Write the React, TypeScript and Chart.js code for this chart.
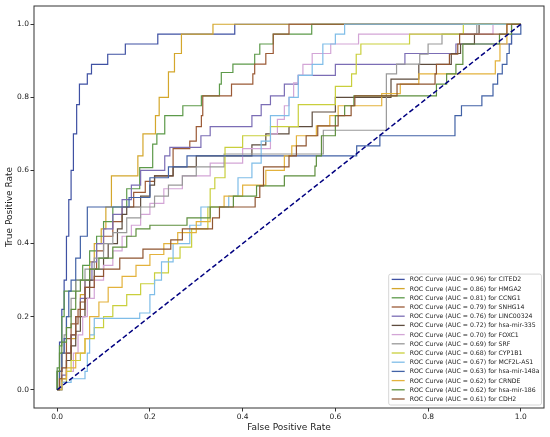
import { useEffect, useRef } from 'react';
import { Chart, registerables } from 'chart.js';

Chart.register(...registerables);

const genes = ['CITED2', 'HMGA2', 'CCNG1', 'SNHG14', 'LINC00324', 'hsa-mir-335', 'FOXC1', 'SRF', 'CYP1B1', 'MCF2L-AS1', 'hsa-mir-148a', 'CRNDE', 'hsa-mir-186', 'CDH2'];
const aucs = [0.96, 0.86, 0.81, 0.79, 0.76, 0.72, 0.70, 0.69, 0.68, 0.67, 0.63, 0.62, 0.62, 0.61];
const axisTicks = [0, 0.2, 0.4, 0.6, 0.8, 1.0];

const fprCITED2 = [0, 0, 0.005, 0.01, 0.015, 0.02, 0.025, 0.03, 0.035, 0.042, 0.048, 0.065, 0.074, 0.109, 0.147, 0.217, 0.383, 1];
const tprCITED2 = [0, 0.05, 0.13, 0.22, 0.3, 0.42, 0.52, 0.6, 0.7, 0.78, 0.836, 0.864, 0.89, 0.918, 0.946, 0.973, 1, 1];

const fprHMGA2 = [0, 0.005, 0.02, 0.03, 0.04, 0.05, 0.06, 0.07, 0.08, 0.095, 0.105, 0.117, 0.174, 0.185, 0.212, 0.22, 0.24, 0.253, 0.268, 0.336, 1];
const tprHMGA2 = [0, 0.03, 0.08, 0.14, 0.2, 0.26, 0.3, 0.35, 0.4, 0.44, 0.5, 0.585, 0.64, 0.7, 0.75, 0.8, 0.87, 0.92, 0.973, 1, 1];

const fprCCNG1 = [0, 0, 0.005, 0.01, 0.015, 0.04, 0.055, 0.07, 0.085, 0.1, 0.12, 0.15, 0.178, 0.206, 0.215, 0.232, 0.271, 0.311, 0.35, 0.354, 0.379, 0.426, 0.437, 0.466, 0.549, 1];
const tprCCNG1 = [0, 0.06, 0.12, 0.2, 0.27, 0.3, 0.34, 0.38, 0.42, 0.46, 0.5, 0.55, 0.608, 0.672, 0.7, 0.75, 0.777, 0.804, 0.836, 0.868, 0.891, 0.918, 0.946, 0.973, 1, 1];

const fprSNHG14 = [0, 0.005, 0.01, 0.02, 0.03, 0.045, 0.06, 0.07, 0.085, 0.1, 0.12, 0.14, 0.165, 0.19, 0.21, 0.25, 0.25, 0.286, 0.3, 0.311, 0.314, 0.376, 0.422, 0.426, 0.45, 0.466, 0.466, 0.5, 1];
const tprSNHG14 = [0, 0.05, 0.1, 0.14, 0.18, 0.22, 0.28, 0.33, 0.38, 0.42, 0.46, 0.5, 0.54, 0.57, 0.585, 0.61, 0.66, 0.68, 0.72, 0.75, 0.804, 0.836, 0.864, 0.891, 0.92, 0.946, 0.973, 1, 1];

const fprLINC00324 = [0, 0.01, 0.02, 0.03, 0.04, 0.05, 0.06, 0.075, 0.085, 0.1, 0.12, 0.14, 0.16, 0.18, 0.232, 0.243, 0.31, 0.33, 0.42, 0.44, 0.46, 0.49, 0.52, 0.6, 0.75, 0.86, 0.98, 1];
const tprLINC00324 = [0, 0.04, 0.1, 0.15, 0.2, 0.25, 0.3, 0.35, 0.4, 0.44, 0.48, 0.52, 0.56, 0.6, 0.64, 0.663, 0.695, 0.72, 0.75, 0.78, 0.804, 0.836, 0.86, 0.89, 0.92, 0.946, 1, 1];

const fprMir335 = [0, 0.01, 0.02, 0.03, 0.04, 0.05, 0.06, 0.07, 0.08, 0.1, 0.11, 0.13, 0.14, 0.15, 0.18, 0.2, 0.21, 0.25, 0.3, 0.42, 0.45, 0.5, 0.55, 0.6, 0.72, 0.78, 0.85, 0.87, 0.9, 0.91, 1];
const tprMir335 = [0, 0.03, 0.08, 0.12, 0.16, 0.2, 0.25, 0.3, 0.33, 0.36, 0.4, 0.44, 0.48, 0.5, 0.53, 0.56, 0.585, 0.61, 0.64, 0.67, 0.7, 0.72, 0.76, 0.8, 0.85, 0.89, 0.92, 0.946, 0.973, 1, 1];

const fprFOXC1 = [0, 0.01, 0.02, 0.035, 0.045, 0.055, 0.065, 0.08, 0.1, 0.12, 0.14, 0.16, 0.18, 0.2, 0.23, 0.27, 0.33, 0.4, 0.46, 0.475, 0.49, 0.5, 0.51, 0.52, 0.53, 0.55, 0.59, 0.65, 0.94, 1];
const tprFOXC1 = [0, 0.02, 0.05, 0.1, 0.15, 0.2, 0.25, 0.3, 0.34, 0.38, 0.42, 0.45, 0.48, 0.51, 0.55, 0.585, 0.62, 0.66, 0.7, 0.74, 0.777, 0.8, 0.84, 0.86, 0.89, 0.92, 0.946, 0.973, 1, 1];

const fprSRF = [0, 0.005, 0.01, 0.015, 0.02, 0.03, 0.04, 0.06, 0.08, 0.1, 0.12, 0.15, 0.18, 0.21, 0.24, 0.27, 0.3, 0.36, 0.574, 0.71, 0.732, 0.782, 0.8, 0.83, 0.905, 1];
const tprSRF = [0, 0.05, 0.1, 0.15, 0.2, 0.25, 0.3, 0.33, 0.36, 0.4, 0.43, 0.47, 0.5, 0.53, 0.56, 0.585, 0.61, 0.645, 0.71, 0.864, 0.891, 0.918, 0.946, 0.973, 1, 1];

const fprCYP1B1 = [0, 0.01, 0.02, 0.03, 0.05, 0.06, 0.08, 0.1, 0.12, 0.15, 0.18, 0.21, 0.24, 0.265, 0.29, 0.325, 0.33, 0.34, 0.362, 0.4, 0.46, 0.52, 0.6, 0.635, 0.645, 0.655, 0.76, 0.876, 1];
const tprCYP1B1 = [0, 0.02, 0.05, 0.08, 0.1, 0.14, 0.17, 0.2, 0.23, 0.26, 0.29, 0.32, 0.36, 0.39, 0.44, 0.5, 0.55, 0.58, 0.663, 0.695, 0.72, 0.78, 0.83, 0.864, 0.918, 0.946, 0.973, 1, 1];

const fprMCF2LAS1 = [0, 0.01, 0.03, 0.06, 0.065, 0.07, 0.08, 0.178, 0.2, 0.21, 0.225, 0.25, 0.286, 0.31, 0.37, 0.39, 0.42, 0.44, 0.46, 0.5, 0.52, 0.55, 0.573, 0.6, 0.62, 1];
const tprMCF2LAS1 = [0, 0.02, 0.03, 0.05, 0.1, 0.15, 0.195, 0.21, 0.26, 0.3, 0.35, 0.4, 0.45, 0.5, 0.53, 0.58, 0.62, 0.68, 0.75, 0.8, 0.86, 0.89, 0.946, 0.973, 1, 1];

const fprMir148a = [0, 0.005, 0.01, 0.015, 0.02, 0.025, 0.03, 0.04, 0.05, 0.065, 0.155, 0.2, 0.24, 0.28, 0.646, 0.696, 0.858, 0.872, 0.916, 0.94, 0.95, 0.96, 0.97, 0.975, 0.98, 1];
const tprMir148a = [0, 0.05, 0.1, 0.14, 0.2, 0.27, 0.3, 0.36, 0.42, 0.5, 0.526, 0.58, 0.61, 0.64, 0.667, 0.695, 0.75, 0.777, 0.804, 0.836, 0.864, 0.89, 0.92, 0.946, 0.973, 1];

const fprCRNDE = [0, 0.01, 0.02, 0.04, 0.06, 0.07, 0.09, 0.11, 0.14, 0.17, 0.2, 0.23, 0.26, 0.3, 0.33, 0.36, 0.4, 0.45, 0.49, 0.506, 0.516, 0.559, 0.588, 0.606, 0.7, 0.74, 0.78, 0.945, 0.955, 0.97, 1];
const tprCRNDE = [0, 0.03, 0.06, 0.1, 0.14, 0.2, 0.24, 0.28, 0.31, 0.34, 0.37, 0.4, 0.43, 0.46, 0.5, 0.53, 0.56, 0.6, 0.64, 0.667, 0.695, 0.722, 0.75, 0.777, 0.81, 0.836, 0.864, 0.9, 0.946, 1, 1];

const fprMir186 = [0, 0, 0.005, 0.01, 0.02, 0.03, 0.04, 0.05, 0.07, 0.09, 0.12, 0.15, 0.17, 0.2, 0.28, 0.33, 0.38, 0.43, 0.49, 0.556, 0.559, 0.57, 0.6, 0.62, 0.64, 0.818, 0.84, 0.86, 0.875, 0.954, 0.98, 1];
const tprMir186 = [0, 0.05, 0.1, 0.13, 0.17, 0.22, 0.27, 0.3, 0.33, 0.36, 0.39, 0.42, 0.44, 0.45, 0.47, 0.5, 0.53, 0.558, 0.585, 0.612, 0.64, 0.695, 0.75, 0.777, 0.804, 0.836, 0.864, 0.89, 0.946, 0.973, 1, 1];

const fprCDH2 = [0, 0.005, 0.01, 0.02, 0.03, 0.04, 0.05, 0.06, 0.08, 0.1, 0.135, 0.185, 0.245, 0.27, 0.335, 0.35, 0.427, 0.437, 0.445, 0.5, 0.516, 0.537, 0.562, 0.606, 0.634, 0.642, 0.733, 0.815, 0.818, 0.846, 0.864, 0.868, 0.97, 1];
const tprCDH2 = [0, 0.03, 0.06, 0.1, 0.15, 0.2, 0.24, 0.28, 0.31, 0.33, 0.36, 0.385, 0.41, 0.44, 0.47, 0.5, 0.526, 0.558, 0.61, 0.64, 0.667, 0.695, 0.722, 0.75, 0.777, 0.804, 0.836, 0.864, 0.89, 0.918, 0.946, 0.973, 1, 1];

const diagonal = [0, 1];

const fprAll = [fprCITED2, fprHMGA2, fprCCNG1, fprSNHG14, fprLINC00324, fprMir335, fprFOXC1, fprSRF, fprCYP1B1, fprMCF2LAS1, fprMir148a, fprCRNDE, fprMir186, fprCDH2];
const tprAll = [tprCITED2, tprHMGA2, tprCCNG1, tprSNHG14, tprLINC00324, tprMir335, tprFOXC1, tprSRF, tprCYP1B1, tprMCF2LAS1, tprMir148a, tprCRNDE, tprMir186, tprCDH2];

const colors = ['#3f51a3', '#d4a72c', '#5d9a4a', '#9b5a36', '#7b6db5', '#5e4c3e', '#d3a5d6', '#999999', '#c9cf3c', '#7fbde8', '#4262a6', '#e3b23c', '#5e8f3e', '#8f5531'];

const FONT = "'DejaVu Sans', sans-serif";

const frameLegendPlugin = {
  id: 'frameLegend',
  afterDatasetsDraw(chart: any) {
    const { ctx, chartArea: a } = chart;
    ctx.save();
    ctx.strokeStyle = '#333';
    ctx.lineWidth = 1;
    ctx.strokeRect(a.left, a.top, a.right - a.left, a.bottom - a.top);

    const fs = 6.2;
    ctx.font = `${fs}px ${FONT}`;
    const labels = genes.map((g, i) => `ROC Curve (AUC = ${aucs[i].toFixed(2)}) for ${g}`);
    const maxW = Math.max(...labels.map((l) => ctx.measureText(l).width));
    const rowH = 9.2;
    const right = a.right - 2.5;
    const bottom = a.bottom - 3;
    const h = rowH * (labels.length - 1) + 11.3;
    const w = maxW + 23;
    const left = right - w;
    const top = bottom - h;
    ctx.beginPath();
    const r = 2;
    ctx.moveTo(left + r, top);
    ctx.lineTo(right - r, top);
    ctx.quadraticCurveTo(right, top, right, top + r);
    ctx.lineTo(right, bottom - r);
    ctx.quadraticCurveTo(right, bottom, right - r, bottom);
    ctx.lineTo(left + r, bottom);
    ctx.quadraticCurveTo(left, bottom, left, bottom - r);
    ctx.lineTo(left, top + r);
    ctx.quadraticCurveTo(left, top, left + r, top);
    ctx.closePath();
    ctx.fillStyle = 'rgba(255,255,255,0.8)';
    ctx.fill();
    ctx.strokeStyle = '#cccccc';
    ctx.lineWidth = 0.8;
    ctx.stroke();

    ctx.textBaseline = 'middle';
    ctx.textAlign = 'left';
    labels.forEach((l, i) => {
      const y = top + 5.3 + i * rowH;
      ctx.strokeStyle = colors[i];
      ctx.lineWidth = 1.3;
      ctx.beginPath();
      ctx.moveTo(left + 3, y);
      ctx.lineTo(left + 16, y);
      ctx.stroke();
      ctx.fillStyle = '#222';
      ctx.fillText(l, left + 21, y + 0.3);
    });
    ctx.restore();
  },
};

export default function App() {
  const ref = useRef<HTMLCanvasElement | null>(null);

  useEffect(() => {
    if (!ref.current) return;
    const datasets: any[] = genes.map((g, i) => ({
      label: `ROC Curve (AUC = ${aucs[i].toFixed(2)}) for ${g}`,
      data: fprAll[i].map((x, j) => ({ x, y: tprAll[i][j] })),
      borderColor: colors[i],
      backgroundColor: colors[i],
      borderWidth: 1.2,
      pointRadius: 0,
      stepped: 'before',
      fill: false,
      order: 30 - i,
    }));
    datasets.push({
      label: 'chance',
      data: diagonal.map((v) => ({ x: v, y: v })),
      borderColor: '#000080',
      borderWidth: 1.5,
      borderDash: [5, 2.6],
      pointRadius: 0,
      fill: false,
      order: 0,
    });

    const setTicks = (scale: any) => {
      scale.ticks = axisTicks.map((v) => ({ value: v }));
    };

    const chart = new Chart(ref.current, {
      type: 'line',
      data: { datasets },
      plugins: [frameLegendPlugin],
      options: {
        animation: false,
        responsive: false,
        maintainAspectRatio: false,
        layout: { padding: { top: 6, right: 6, left: 0, bottom: 0 } },
        plugins: { legend: { display: false }, tooltip: { enabled: false } },
        elements: { line: { tension: 0 } },
        scales: {
          x: {
            type: 'linear',
            min: -0.05,
            max: 1.05,
            afterBuildTicks: setTicks,
            afterFit: (s: any) => { s.height = 29; },
            grid: { display: true, drawOnChartArea: false, drawTicks: true, tickLength: 3.5, color: '#333' },
            border: { display: false },
            ticks: { font: { family: FONT, size: 7.5 }, color: '#222', padding: 1, maxRotation: 0, callback: (v: any) => Number(v).toFixed(1) },
            title: { display: true, text: 'False Positive Rate', font: { family: FONT, size: 9 }, color: '#222', padding: { top: 0, bottom: 4 } },
          },
          y: {
            type: 'linear',
            min: -0.05,
            max: 1.05,
            afterBuildTicks: setTicks,
            afterFit: (s: any) => { s.width = 34; },
            grid: { display: true, drawOnChartArea: false, drawTicks: true, tickLength: 3.5, color: '#333' },
            border: { display: false },
            ticks: { font: { family: FONT, size: 7.5 }, color: '#222', padding: 1.5, callback: (v: any) => Number(v).toFixed(1) },
            title: { display: true, text: 'True Positive Rate', font: { family: FONT, size: 9 }, color: '#222', padding: { top: 4, bottom: 0 } },
          },
        },
      },
    });
    return () => chart.destroy();
  }, []);

  return (
    <div style={{ position: 'absolute', left: 0, top: 0, width: 550, height: 437, background: '#fff' }}>
      <canvas ref={ref} width={550} height={437} style={{ width: 550, height: 437, display: 'block' }} />
    </div>
  );
}
